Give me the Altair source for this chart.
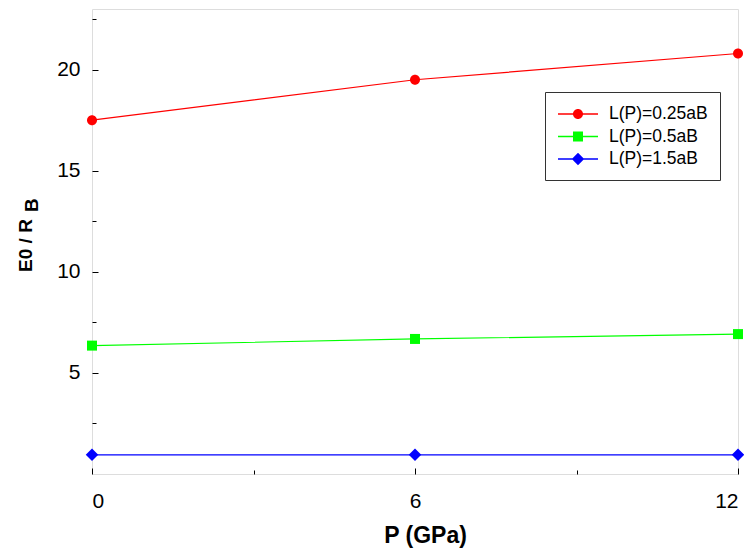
import altair as alt
import pandas as pd

# ---- data ----
pressure = [0, 6, 12]
series_names = ["L(P)=0.25aB", "L(P)=0.5aB", "L(P)=1.5aB"]
e_red = [17.5, 19.5, 20.8]
e_green = [6.35, 6.68, 6.92]
e_blue = [0.95, 0.95, 0.95]
colors = ["#ff0000", "#00ff00", "#0000ff"]
x_major = [0, 6, 12]
x_minor = [3, 9]
y_major = [5, 10, 15, 20]
y_minor = [2.5, 7.5, 12.5, 17.5, 22.5]

rows = []
for name, vals in zip(series_names, [e_red, e_green, e_blue]):
    for p, v in zip(pressure, vals):
        rows.append({"P": p, "E": v, "series": name})
df = pd.DataFrame(rows)

W, H = 646, 465
FONT = "Liberation Sans"

marker_paths = [
    "M1,0A1,1 0 1,1 -1,0A1,1 0 1,1 1,0Z",
    "M-1,-1H1V1H-1Z",
    "M0,-1.25L1.25,0L0,1.25L-1.25,0Z",
]
seg = "M-2,-0.07H2V0.07H-2Z "
legend_paths = [
    seg + "M0.5,0A0.5,0.5 0 1,1 -0.5,0A0.5,0.5 0 1,1 0.5,0Z",
    seg + "M-0.5,-0.5H0.5V0.5H-0.5Z",
    seg + "M0,-0.62L0.62,0L0,0.62L-0.62,0Z",
]

xscale = alt.Scale(domain=[0, 12], nice=False, zero=False)
yscale = alt.Scale(domain=[0, 23], nice=False, zero=False)
cscale = alt.Scale(domain=series_names, range=colors)

legend_cfg = alt.Legend(
    title=None, orient="none", legendX=453, legendY=83,
    padding=12, symbolOffset=11, labelOffset=21,
    strokeColor="#333", fillColor="white",
    symbolSize=400, symbolOpacity=1, symbolStrokeWidth=0,
    labelFontSize=17.5, labelFont=FONT, labelColor="black",
    rowPadding=3.5)

base = alt.Chart(df)

lines = base.mark_line(strokeWidth=1.2).encode(
    x=alt.X("P:Q", scale=xscale, axis=alt.Axis(
        values=x_major, ticks=False, tickSize=0, domain=False, grid=False,
        labelFontSize=21, labelPadding=16, labelFont=FONT, labelColor="black",
        title="P (GPa)", titleFont=FONT, titleFontSize=23, titleFontWeight="bold",
        titleX=333, titleY=68, titleBaseline="alphabetic", titleColor="black")),
    y=alt.Y("E:Q", scale=yscale, axis=alt.Axis(
        values=y_major, ticks=False, tickSize=0, domain=False, grid=False,
        labelFontSize=21, labelPadding=12, labelFont=FONT, labelColor="black",
        title="E0 / R", titleFont=FONT, titleFontSize=19, titleFontWeight="bold",
        titleAngle=270, titleX=-61, titleY=236, titleAlign="center",
        titleBaseline="alphabetic", titleColor="black")),
    color=alt.Color("series:N", scale=cscale, legend=None),
)

points = base.mark_point(filled=True, size=100, opacity=1).encode(
    x=alt.X("P:Q", scale=xscale, axis=alt.Axis(
        orient="top", offset=-H, values=x_major, tickSize=6, labels=False,
        domain=False, grid=False, title=None, tickColor="black")),
    y=alt.Y("E:Q", scale=yscale, axis=alt.Axis(
        orient="right", offset=-W, values=y_major, tickSize=6, labels=False,
        domain=False, grid=False, title=None, tickColor="black")),
    color=alt.Color("series:N", scale=cscale, legend=None),
    shape=alt.Shape("series:N", scale=alt.Scale(domain=series_names, range=marker_paths), legend=None),
)

legend_layer = base.mark_point(filled=True, opacity=0, size=400).encode(
    x=alt.X("P:Q", scale=xscale, axis=alt.Axis(
        orient="top", offset=-H, values=x_minor, tickSize=4, labels=False,
        domain=False, grid=False, title=None, tickColor="black")),
    y=alt.Y("E:Q", scale=yscale, axis=alt.Axis(
        orient="right", offset=-W, values=y_minor, tickSize=4, labels=False,
        domain=False, grid=False, title=None, tickColor="black")),
    color=alt.Color("series:N", scale=cscale, legend=legend_cfg),
    shape=alt.Shape("series:N", scale=alt.Scale(domain=series_names, range=legend_paths),
                    legend=legend_cfg),
)

sub = alt.Chart(pd.DataFrame({"t": ["B"]})).mark_text(
    angle=270, align="left", baseline="alphabetic", fontSize=19,
    fontWeight="bold", font=FONT, color="black"
).encode(text="t:N", x=alt.value(-54), y=alt.value(203))

chart = alt.layer(lines, points, legend_layer, sub).resolve_scale(
    shape="independent", color="independent"
).resolve_axis(
    x="independent", y="independent"
).properties(
    width=W, height=H,
    autosize=alt.AutoSizeParams(type="none"),
    padding={"left": 84, "top": 1, "right": 6, "bottom": 75},
).configure_view(
    stroke="#222", strokeWidth=1
).configure(background="white")

chart.save("out.html", embed_options={"renderer": "svg", "actions": False})
